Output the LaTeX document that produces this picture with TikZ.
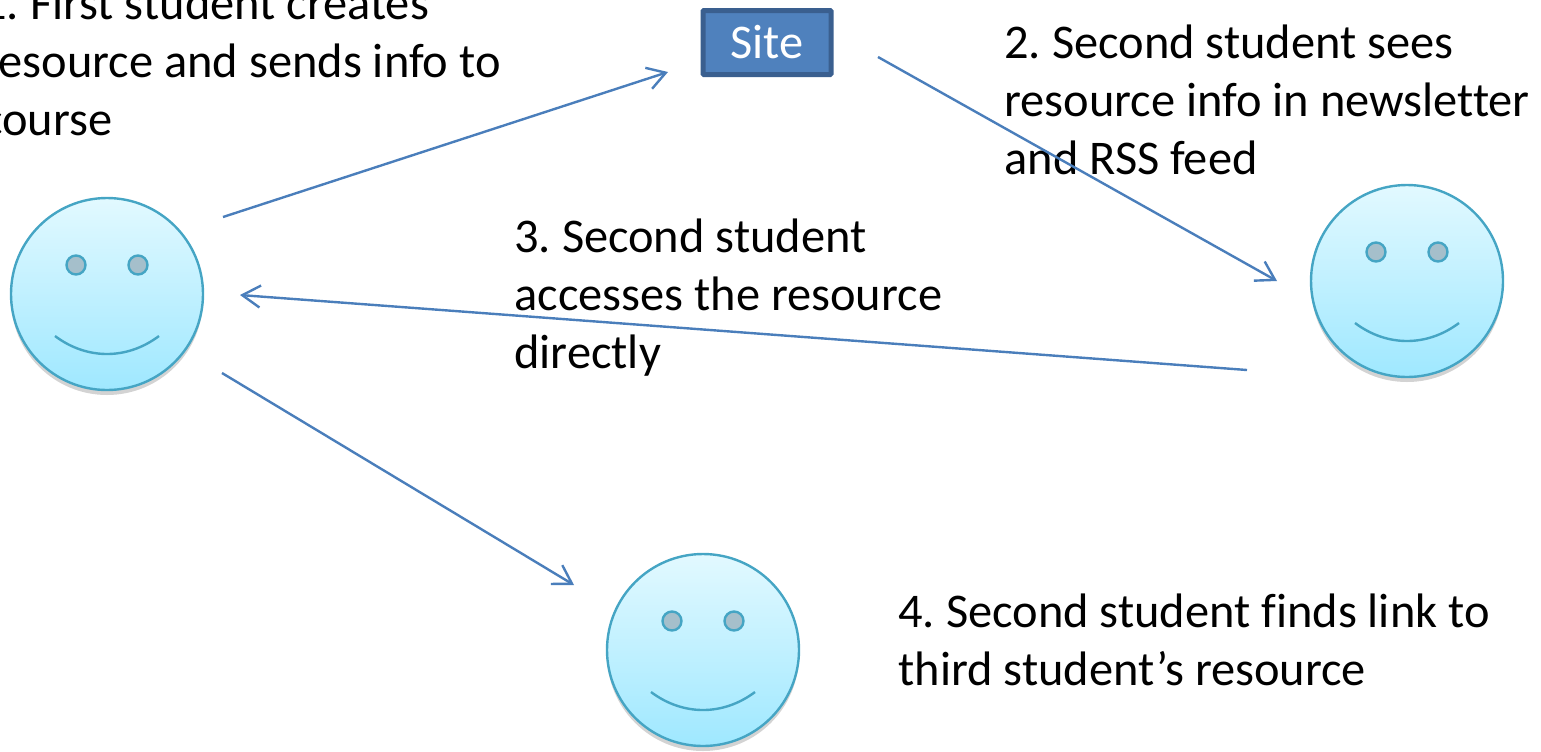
\documentclass[tikz,border=0pt]{standalone}
\usepackage{fontspec}
\setmainfont[Ligatures=NoCommon]{Carlito}
\usetikzlibrary{arrows.meta,shadows}
\definecolor{FlowBlue}{HTML}{4A7EBB}
\definecolor{SiteFill}{HTML}{4F81BD}
\definecolor{SiteEdge}{HTML}{3A5F8F}
\definecolor{FaceEdge}{HTML}{45A5C4}
\definecolor{FaceTop}{HTML}{E2F9FF}
\definecolor{FaceBottom}{HTML}{9FE8FF}
\definecolor{EyeFill}{HTML}{A5BFCB}
\frenchspacing
\tikzset{
  face/.style={circle, draw=FaceEdge, line width=1.2pt, minimum size=96pt, inner sep=0pt, top color=FaceTop, bottom color=FaceBottom, drop shadow={shadow xshift=0pt, shadow yshift=-2.5pt, opacity=0.35}},
  eye/.style={circle, draw=FaceEdge, line width=1.2pt, fill=EyeFill, minimum size=9.5pt, inner sep=0pt},
  mouth/.style={draw=FaceEdge, line width=1.2pt},
  flow/.style={draw=FlowBlue, line width=1.2pt, -{Straight Barb[length=9pt,width=11pt]}},
  note/.style={anchor=north west, inner sep=0pt, align=left, text=black, font=\fontsize{24.2}{29}\selectfont},
}
\newcommand{\smiley}[2]{
  \node[face] (#1) at (#2) {};
  \node[eye] (#1eyeL) at ([shift={(-31,-29)}]#1.center) {};
  \node[eye] (#1eyeR) at ([shift={(31,-29)}]#1.center) {};
  \draw[mouth] ([shift={(-52,42)}]#1.center) .. controls ([shift={(-20,66)}]#1.center) and ([shift={(20,66)}]#1.center) .. ([shift={(52,42)}]#1.center);
}
\begin{document}
\begin{tikzpicture}[x=0.5pt, y=-0.5pt]
  \useasboundingbox (0,0) rectangle (1541,751);
  % Faces
  \smiley{first}{107,294}
  \smiley{second}{1407,281}
  \smiley{third}{703,650}
  % Site box
  \node[draw=SiteEdge, fill=SiteFill, line width=2.5pt, rounded corners=0.5pt, minimum width=64pt, minimum height=32pt, text=white, font=\fontsize{24.2}{29}\selectfont] (site) at (767,42.5) {Site};
  % Notes
  \node[note] (note1) at (-18,-15) {1. First student creates\\resource and sends info to\\course};
  \node[note] (note2) at (1004,24) {2. Second student sees\\resource info in newsletter\\and RSS feed};
  \node[note] (note3) at (514,218) {3. Second student\\accesses the resource\\directly};
  \node[note] (note4) at (898,593) {4. Second student finds link to\\third student’s resource};
  % Arrow ends
  \coordinate (firstup) at (223,217);
  \coordinate (siteleft) at (668,72);
  \coordinate (siteright) at (878,57);
  \coordinate (secondin) at (1277,281);
  \coordinate (secondout) at (1247,370);
  \coordinate (firstin) at (240,295);
  \coordinate (firstdown) at (222,373);
  \coordinate (thirdin) at (574,585);
  % Arrows
  \draw[flow] (firstup) -- (siteleft);
  \draw[flow] (siteright) -- (secondin);
  \draw[flow] (secondout) -- (firstin);
  \draw[flow] (firstdown) -- (thirdin);
\end{tikzpicture}
\end{document}
